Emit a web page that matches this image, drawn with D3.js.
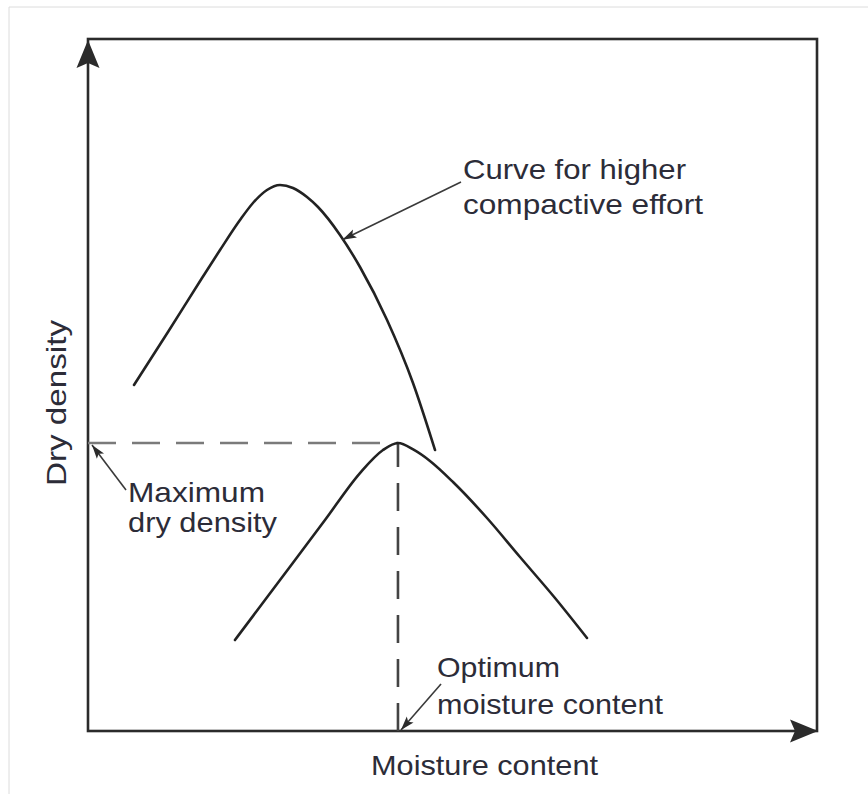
<!DOCTYPE html>
<html>
<head>
<meta charset="utf-8">
<script src="https://cdn.jsdelivr.net/npm/d3@7/dist/d3.min.js"></script>
<style>
  html, body { margin: 0; padding: 0; background: #ffffff; }
  svg { display: block; }
  text { font-family: "Liberation Sans", Arial, Helvetica, sans-serif; fill: #2c2c38; }
</style>
</head>
<body>
<script>
// Compaction curves: dry density against moisture content (schematic units 0-100)
const moistureHigh = [6.31, 10.97, 15.64, 18.11, 20.85, 22.63, 24.55, 26.34, 28.12, 30.04, 31.55, 34.57, 37.31, 41.02, 44.58, 47.60];
const densityHigh  = [50.00, 57.66, 65.46, 69.51, 73.84, 76.30, 78.18, 78.90, 78.47, 77.17, 75.72, 71.68, 67.05, 59.39, 50.29, 40.61];

const moistureStd = [20.16, 26.34, 32.51, 37.31, 40.47, 42.52, 44.72, 46.91, 50.07, 54.73, 59.26, 64.06, 68.45];
const densityStd  = [13.15, 21.82, 30.49, 37.28, 40.61, 41.62, 40.61, 39.02, 35.98, 30.78, 25.14, 19.22, 13.44];

const axisTitles = { x: "Moisture content", y: "Dry density" };
const labelHigh = ["Curve for higher", "compactive effort"];
const labelMDD  = ["Maximum", "dry density"];
const labelOMC  = ["Optimum", "moisture content"];

const W = 868, H = 794;
const plot = { left: 88, right: 817, top: 39, bottom: 731 };

const x = d3.scaleLinear().domain([0, 100]).range([plot.left, plot.right]);
const y = d3.scaleLinear().domain([0, 100]).range([plot.bottom, plot.top]);

const svg = d3.select("body").append("svg")
  .attr("width", W).attr("height", H)
  .attr("viewBox", `0 0 ${W} ${H}`);

svg.append("rect").attr("width", W).attr("height", H).attr("fill", "#fff");

// thin outer border along the top and left edges
svg.append("path")
  .attr("d", `M9,${H} V7 H${W}`)
  .attr("fill", "none").attr("stroke", "#dcdcdc").attr("stroke-width", 1);

const ink = "#2b2b2b";

// plot frame
svg.append("rect")
  .attr("x", x(0)).attr("y", y(100))
  .attr("width", x(100) - x(0)).attr("height", y(0) - y(100))
  .attr("fill", "none").attr("stroke", ink).attr("stroke-width", 2.6);

// axis arrowheads (y up at top-left corner, x right at bottom-right corner)
const bigHead = "M0,0 L-28,-11.5 L-23,0 L-28,11.5 Z";
svg.append("path").attr("d", bigHead)
  .attr("transform", `translate(${x(0)},${y(100) + 1}) rotate(-90)`)
  .attr("fill", ink);
svg.append("path").attr("d", bigHead)
  .attr("transform", `translate(${x(100) + 1},${y(0)})`)
  .attr("fill", ink);

// dashed guides to the peak of the standard curve
const iPeak = d3.maxIndex(densityStd);
const omc = moistureStd[iPeak], mdd = densityStd[iPeak];

svg.append("line")
  .attr("x1", x(0)).attr("y1", y(mdd)).attr("x2", x(omc)).attr("y2", y(mdd))
  .attr("stroke", "#7a7a7a").attr("stroke-width", 2.6)
  .attr("stroke-dasharray", "28,16");
svg.append("line")
  .attr("x1", x(omc)).attr("y1", y(0)).attr("x2", x(omc)).attr("y2", y(mdd))
  .attr("stroke", "#444").attr("stroke-width", 2.6)
  .attr("stroke-dasharray", "28,16");

// curves
const line = d3.line()
  .x(d => x(d[0])).y(d => y(d[1]))
  .curve(d3.curveMonotoneX);

svg.append("path")
  .datum(d3.zip(moistureHigh, densityHigh))
  .attr("d", line)
  .attr("fill", "none").attr("stroke", "#222").attr("stroke-width", 2.6)
  .attr("stroke-linecap", "round");

svg.append("path")
  .datum(d3.zip(moistureStd, densityStd))
  .attr("d", line)
  .attr("fill", "none").attr("stroke", "#222").attr("stroke-width", 2.6)
  .attr("stroke-linecap", "round");

// leader arrows
const smallHead = "M0,0 L-14,-4.5 L-11,0 L-14,4.5 Z";
function leader(x1, y1, x2, y2) {
  svg.append("line")
    .attr("x1", x1).attr("y1", y1).attr("x2", x2).attr("y2", y2)
    .attr("stroke", "#3a3a3a").attr("stroke-width", 1.6);
  const ang = Math.atan2(y2 - y1, x2 - x1) * 180 / Math.PI;
  svg.append("path").attr("d", smallHead)
    .attr("transform", `translate(${x2},${y2}) rotate(${ang})`)
    .attr("fill", "#2b2b2b");
}

// text helper
function label(lines, x0, baselines, widths) {
  lines.forEach((t, i) => {
    svg.append("text")
      .attr("x", x0).attr("y", baselines[i])
      .attr("font-size", 28)
      .attr("textLength", widths[i])
      .attr("lengthAdjust", "spacingAndGlyphs")
      .text(t);
  });
}

// higher compactive effort
leader(461, 182, x(34.9), y(71.0));
label(labelHigh, 463, [179, 214], [223, 240]);

// maximum dry density
leader(126, 490, x(0) + 4, y(mdd) + 2);
label(labelMDD, 128, [502, 532], [137, 149]);

// optimum moisture content
leader(441, 684, x(omc) + 3, y(0) - 1);
label(labelOMC, 437, [677, 714], [123, 226]);

// axis titles
svg.append("text")
  .attr("x", 371).attr("y", 775)
  .attr("font-size", 28)
  .attr("textLength", 227).attr("lengthAdjust", "spacingAndGlyphs")
  .text(axisTitles.x);

svg.append("text")
  .attr("transform", `translate(66,${403}) rotate(-90)`)
  .attr("text-anchor", "middle")
  .attr("font-size", 28)
  .attr("textLength", 166).attr("lengthAdjust", "spacingAndGlyphs")
  .text(axisTitles.y);
</script>
</body>
</html>
